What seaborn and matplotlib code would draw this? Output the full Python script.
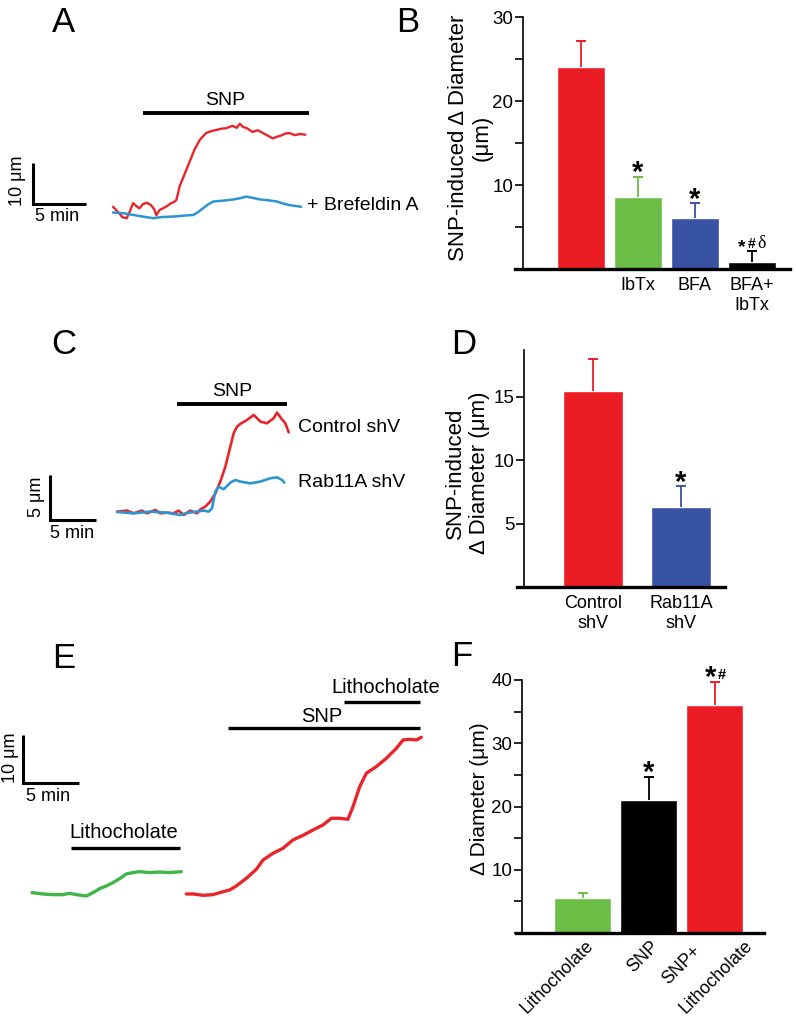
import matplotlib
matplotlib.use("Agg")
import matplotlib.pyplot as plt
import seaborn as sns
from matplotlib.ticker import MultipleLocator

# ---- panel A traces (time in min, diameter change in um) ----
a_snp_t = [0, 0.3, 0.6, 0.9, 1.3, 1.6, 1.9, 2.2, 2.5, 2.8, 3.2, 3.6, 3.9, 4.1, 4.4, 4.7,
           5.0, 5.5, 5.8, 6.0, 6.3, 6.8, 7.3, 7.7, 8.2, 8.8, 9.3, 9.8, 10.3, 10.7, 11.3,
           11.7, 12.0, 12.3, 12.6, 13.2, 13.7, 14.2, 14.7, 15.1, 15.5, 15.8, 16.3, 16.7,
           17.2, 17.7, 18.2]
a_snp_v = [1.6, 0.8, 0.0, -1.0, -1.2, 0.5, 2.5, 1.8, 1.2, 2.2, 2.6, 2.0, 1.0, -0.5, 0.8, 1.2,
           1.6, 2.5, 2.8, 3.3, 6.6, 9.8, 13.0, 15.6, 18.0, 19.7, 20.2, 20.5, 20.8, 20.9, 21.5,
           21.0, 22.0, 21.2, 21.0, 20.0, 20.4, 19.7, 19.0, 18.4, 18.8, 19.0, 19.6, 19.7,
           19.2, 19.5, 19.3]
a_bfa_t = [0, 1.0, 1.9, 2.8, 3.8, 4.7, 5.7, 6.6, 7.6, 8.0, 8.5, 9.0, 9.5, 10.4, 11.4, 12.0,
           12.6, 13.2, 13.9, 14.7, 15.5, 16.1, 16.7, 17.3, 17.8]
a_bfa_v = [0.2, 0.0, -0.4, -0.8, -1.2, -0.9, -0.8, -0.6, -0.4, 0.2, 1.2, 2.2, 2.9, 3.1, 3.4, 3.7,
           4.1, 3.8, 3.4, 3.2, 2.9, 2.4, 2.0, 1.8, 1.6]
a_snp_on = [2.8, 18.5]

# ---- panel B ----
b_groups = ["SNP", "IbTx", "BFA", "BFA+\nIbTx"]
b_labels = ["", "IbTx", "BFA", "BFA+\nIbTx"]
b_mean = [24.0, 8.6, 6.1, 0.8]
b_sem = [3.1, 2.4, 1.7, 1.3]
b_marks = ["", "*", "*", "*#\u03b4"]

# ---- panel C traces ----
c_ctrl_t = [0, 1.09, 1.81, 2.72, 3.26, 4.17, 4.71, 5.43, 6.16, 6.70, 7.25, 7.97, 8.70, 9.06,
            9.60, 10.14, 10.69, 11.23, 11.78, 12.32, 12.68, 13.04, 13.41, 14.13, 14.86, 15.58,
            16.30, 17.03, 17.39, 17.93, 18.30, 18.66]
c_ctrl_v = [0.19, 0.30, 0, 0.30, 0, 0.37, 0, 0.07, 0, 0.30, -0.19, 0.30, 0, 0.44,
            0.74, 1.30, 2.22, 3.52, 5.19, 7.41, 8.89, 9.63, 9.93, 10.37, 10.93, 10.19,
            10.0, 10.56, 11.19, 10.44, 10.0, 9.0]
c_rab_t = [0, 1.81, 3.62, 5.43, 6.88, 7.43, 8.33, 9.42, 9.96, 10.33, 10.69, 11.05, 11.59,
           12.32, 12.86, 13.41, 14.49, 15.58, 16.67, 17.39, 17.93, 18.19]
c_rab_v = [0.15, 0, 0.19, 0.07, -0.19, 0, 0.15, 0.30, 0.19, 0.56, 2.41, 2.96, 2.67,
           3.41, 3.70, 3.52, 3.33, 3.52, 3.89, 4.0, 3.70, 3.41]
c_snp_on = [6.5, 18.5]

# ---- panel D ----
d_groups = ["Control\nshV", "Rab11A\nshV"]
d_mean = [15.5, 6.35]
d_sem = [2.5, 1.6]
d_marks = ["", "*"]

# ---- panel E traces ----
e_lca_t = [0, 0.98, 1.88, 2.77, 3.36, 3.96, 4.85, 5.45, 6.04, 6.64, 7.23, 7.83, 8.42, 9.02,
           9.61, 10.51, 11.40, 12.29, 13.33]
e_lca_v = [0.14, -0.14, -0.28, -0.28, 0, -0.28, -0.56, 0.14, 0.97, 1.53, 2.22, 3.06, 4.03, 4.31,
           4.51, 4.31, 4.44, 4.31, 4.51]
e_snp_t = [13.78, 14.38, 15.27, 16.16, 16.76, 17.65, 18.24, 19.14, 20.03, 20.63, 21.52, 22.41,
           23.30, 24.20, 25.09, 25.98, 26.73, 27.47, 28.21, 28.66, 29.26, 29.85, 30.74, 31.64,
           32.53, 33.13, 33.72, 34.32, 34.76]
e_snp_v = [-0.14, -0.14, -0.42, -0.28, 0.14, 0.69, 1.53, 3.13, 5.0, 6.94, 8.33, 9.38,
           11.11, 12.08, 13.19, 14.24, 15.63, 15.63, 15.42, 18.06, 22.22, 25.0, 26.39, 28.13,
           30.21, 31.94, 32.08, 31.94, 32.5]
e_lca_on = [3.5, 13.2]
e_snp_on = [17.5, 34.6]
e_lca2_on = [27.9, 34.6]

# ---- panel F ----
f_groups = ["Lithocholate", "SNP", "SNP+ Lithocholate"]
f_mean = [5.5, 21.0, 36.1]
f_sem = [0.9, 3.7, 3.6]

RED = "#ec1c24"
TRED = "#e8262a"
GREEN = "#6bbd45"
BLUE = "#3953a4"
LBLUE = "#2b95d1"
TGREEN = "#3fb54a"

sns.set_theme(style="ticks")
plt.rcParams["font.family"] = ["Liberation Sans", "DejaVu Sans"]
for k in ["text.color", "axes.labelcolor", "xtick.color", "ytick.color", "axes.edgecolor"]:
    plt.rcParams[k] = "black"

W, H = 796, 1017
fig = plt.figure(figsize=(W / 100, H / 100), dpi=100)


def px_axes(x0, y0, x1, y1):
    return fig.add_axes([x0 / W, 1 - y1 / H, (x1 - x0) / W, (y1 - y0) / H])


def trace_axes(box, origin, scale):
    x0, y0, x1, y1 = box
    ox, oy = origin
    sx, sy = scale
    ax = px_axes(x0, y0, x1, y1)
    ax.set_xlim((x0 - ox) / sx, (x1 - ox) / sx)
    ax.set_ylim((oy - y1) / sy, (oy - y0) / sy)
    ax.set_axis_off()
    return ax


def trace(ax, t, v, color, lw):
    sns.lineplot(x=t, y=v, color=color, lw=lw, sort=False, estimator=None, ax=ax)


def drug_bar(ax, on, level, lw=2.8):
    ax.plot(on, [level, level], color="black", lw=lw, solid_capstyle="butt")


def scale_bar(ax, t0, v0, dv, ylab, ytext, xtext):
    ax.plot([t0, t0, t0 + 5], [v0 + dv, v0, v0], color="black", lw=2.2,
            solid_joinstyle="miter", solid_capstyle="butt")
    ax.text(*ytext, ylab, rotation=90, ha="center", va="center", fontsize=13)
    ax.text(*xtext, "5 min", ha="center", va="center", fontsize=13)


def bar_panel(box, ymax, xlim, spine_frac, groups, means, sems, colors, width):
    x0, x1, base, top = box
    ax = px_axes(x0, top, x1, base)
    sns.barplot(x=groups, y=means, hue=groups, palette=colors, width=width,
                saturation=1, legend=False, errorbar=None, ax=ax)
    for i, (m, s, c) in enumerate(zip(means, sems, colors)):
        ax.vlines(i, m, m + s, color=c, lw=1.3, zorder=3)
        ax.plot([i], [m + s], marker="_", ms=7.5, mew=1.4, color=c, zorder=3)
    ax.set_xlim(*xlim)
    ax.set_ylim(0, ymax)
    sns.despine(ax=ax)
    ax.spines["left"].set_position(("axes", spine_frac))
    ax.spines["left"].set_linewidth(1.2)
    ax.spines["bottom"].set_linewidth(2.4)
    ax.tick_params(axis="y", which="both", direction="out", length=6, width=1.2,
                   labelsize=13.5, pad=1)
    ax.tick_params(axis="x", length=0, labelsize=13, pad=6)
    ax.set_xlabel("")
    return ax


def mark(ax, x, y, text, fs=21, dx=0, dy=-3.2, bold=True, family=None):
    ax.annotate(text, xy=(x, y), xytext=(dx, dy), textcoords="offset points",
                ha="center", va="baseline", fontsize=fs, family=family,
                fontweight="bold" if bold else "normal", annotation_clip=False)


# panel letters
for letter, (x, y) in {"A": (64, 23), "B": (408, 22), "C": (64, 345), "D": (464, 344),
                       "E": (64, 658), "F": (462, 657)}.items():
    fig.text(x / W, 1 - y / H, letter, ha="center", va="center", fontsize=25)

# ---- A ----
ax = trace_axes((0, 60, 400, 250), (113, 213.3), (10.57, 4.07))
trace(ax, a_snp_t, a_snp_v, TRED, 1.7)
trace(ax, a_bfa_t, a_bfa_v, LBLUE, 1.8)
drug_bar(ax, a_snp_on, 24.6)
ax.text(sum(a_snp_on) / 2, 27.8, "SNP", ha="center", va="center", fontsize=14)
ax.text(18.4, 2.0, "+ Brefeldin A", ha="left", va="center", fontsize=14)
scale_bar(ax, -7.6, 2.3, 10, "10 \u03bcm", (-9.0, 7.9), (-5.3, -0.8))

# ---- B ----
ax = bar_panel((515, 790, 269, 17), 30, (-1.16, 3.67), 0.029, b_groups, b_mean, b_sem,
               [RED, GREEN, BLUE, "black"], 0.84)
ax.set_yticks([10, 20, 30])
ax.yaxis.set_minor_locator(MultipleLocator(5))
ax.set_xticks(range(4), b_labels)
ax.set_ylabel("SNP-induced \u0394 Diameter\n(\u03bcm)", fontsize=16)
ax.yaxis.set_label_coords((493 - 515) / 275, 0.52)
for i, mk in enumerate(b_marks):
    top = b_mean[i] + b_sem[i]
    if mk == "*":
        mark(ax, i, top, mk)
    elif mk:
        mark(ax, i, top, mk[0], fs=14, dx=-7.5, dy=-0.8)
        mark(ax, i, top, mk[1], fs=10, dx=0, dy=2.4)
        mark(ax, i, top, mk[2], fs=13, dx=7, dy=2.4, bold=False,
             family=["Liberation Serif", "DejaVu Serif"])

# ---- C ----
ax = trace_axes((0, 370, 400, 560), (117, 513.3), (9.2, 9.0))
trace(ax, c_ctrl_t, c_ctrl_v, TRED, 1.9)
trace(ax, c_rab_t, c_rab_v, LBLUE, 1.9)
drug_bar(ax, c_snp_on, 12.1)
ax.text(sum(c_snp_on) / 2, 13.5, "SNP", ha="center", va="center", fontsize=14)
ax.text(19.7, 9.5, "Control shV", ha="left", va="center", fontsize=14)
ax.text(19.7, 3.4, "Rab11A shV", ha="left", va="center", fontsize=14)
scale_bar(ax, -7.3, -0.74, 5, "5 \u03bcm", (-8.8, 1.8), (-4.9, -2.2))

# ---- D ----
ax = bar_panel((517, 725, 587, 350), 18.7, (-0.864, 1.5), 0.034, d_groups, d_mean, d_sem,
               [RED, BLUE], 0.68)
ax.set_yticks([5, 10, 15])
ax.set_ylabel("SNP-induced\n\u0394 Diameter (\u03bcm)", fontsize=16)
ax.yaxis.set_label_coords((490 - 517) / 208, 0.48)
for i, mk in enumerate(d_marks):
    if mk:
        mark(ax, i, d_mean[i] + d_sem[i], mk)

# ---- E ----
ax = trace_axes((0, 670, 450, 920), (32, 893.3), (11.2, 4.8))
trace(ax, e_lca_t, e_lca_v, TGREEN, 2.4)
trace(ax, e_snp_t, e_snp_v, TRED, 2.4)
drug_bar(ax, e_lca_on, 9.4, 2.4)
drug_bar(ax, e_snp_on, 34.4, 2.4)
drug_bar(ax, e_lca2_on, 39.9, 2.4)
ax.text(8.2, 12.6, "Lithocholate", ha="center", va="center", fontsize=14.5)
ax.text(25.9, 36.8, "SNP", ha="center", va="center", fontsize=14.5)
ax.text(31.6, 42.8, "Lithocholate", ha="center", va="center", fontsize=14.5)
scale_bar(ax, -0.8, 23.0, 10, "10 \u03bcm", (-1.9, 28.2), (1.4, 20.1))

# ---- F ----
ax = bar_panel((516, 764, 933, 680), 40, (-1.01, 2.75), 0.024, f_groups, f_mean, f_sem,
               [GREEN, "black", RED], 0.86)
ax.set_yticks([10, 20, 30, 40])
ax.yaxis.set_minor_locator(MultipleLocator(5))
ax.set_xticks(range(3), [""] * 3)
# rotated group labels, the two-line one is split into its two words
f_label_lines = [(0, "Lithocholate", 1.8, -3.0), (1, "SNP", 0.7, -3.6),
                 (2, f_groups[2].split()[0], -16.0, -7.0),
                 (2, f_groups[2].split()[1], 21.5, -2.8)]
for i, txt, ox, oy in f_label_lines:
    ax.annotate(txt, xy=(i, 0), xytext=(ox, oy), textcoords="offset points",
                rotation=45, ha="right", va="top", rotation_mode="anchor",
                fontsize=12.8, annotation_clip=False)
ax.set_ylabel("\u0394 Diameter (\u03bcm)", fontsize=15)
ax.yaxis.set_label_coords((489 - 516) / 248, 0.53)
mark(ax, 1, f_mean[1] + f_sem[1], "*")
mark(ax, 2, f_mean[2] + f_sem[2], "*", dx=-3)
mark(ax, 2, f_mean[2] + f_sem[2], "#", fs=10.5, dx=5.5, dy=2)

fig.savefig("out.png", dpi=100)
